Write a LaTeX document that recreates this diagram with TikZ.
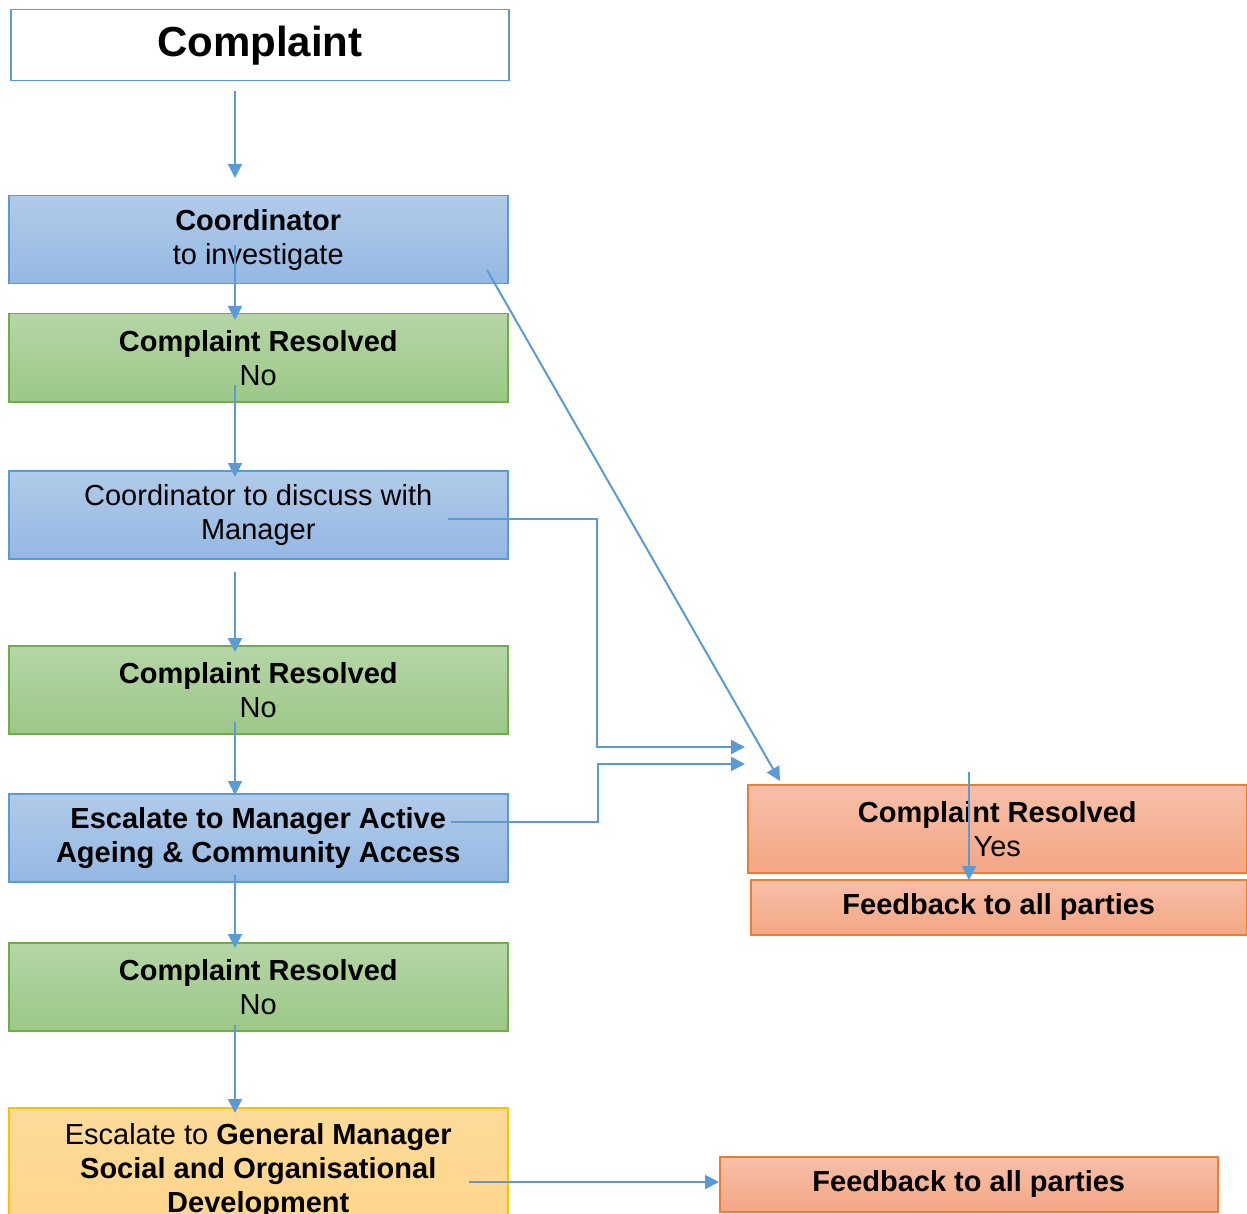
\documentclass[tikz,border=0pt]{standalone}
\usepackage{fontspec}
\setmainfont{Liberation Sans}
\usetikzlibrary{arrows.meta,calc}
\definecolor{bline}{HTML}{5B9BD5}
\definecolor{btop}{HTML}{B1CBE9}
\definecolor{bbot}{HTML}{94B8E3}
\definecolor{gline}{HTML}{70AD47}
\definecolor{gtop}{HTML}{B5D5A6}
\definecolor{gbot}{HTML}{9CC887}
\definecolor{oline}{HTML}{ED7D31}
\definecolor{otop}{HTML}{F7BFA8}
\definecolor{obot}{HTML}{F4A785}
\definecolor{yline}{HTML}{FFC000}
\definecolor{ytop}{HTML}{FEDB9A}
\definecolor{ybot}{HTML}{FED58A}
\begin{document}
\begin{tikzpicture}[x=1pt,y=-1pt,
  font=\fontsize{29}{34}\selectfont,
  box/.style={draw, line width=1.5pt, minimum width=499pt, minimum height=88pt,
    inner sep=0pt, align=center, anchor=north west},
  bluebox/.style={box, draw=bline, top color=btop, bottom color=bbot},
  greenbox/.style={box, draw=gline, top color=gtop, bottom color=gbot},
  orangebox/.style={box, draw=oline, top color=otop, bottom color=obot},
  yellowbox/.style={box, draw=yline, top color=ytop, bottom color=ybot},
  arr/.style={draw=bline, line width=2pt, -{Triangle[length=14pt,width=14pt]}}]
\useasboundingbox (0,0) rectangle (1247,1214);
\fill[white] (0,0) rectangle (1247,1214);

\node[box, draw=bline, fill=white, minimum width=498pt, minimum height=71pt,
  font=\fontsize{42}{46}\selectfont\bfseries] (title) at (10,9) {Complaint};
\node[bluebox] (coord) at (8,195) {\textbf{Coordinator}\\to investigate};
\node[greenbox] (res1) at (8,313) {\textbf{Complaint Resolved}\\No};
\node[bluebox] (disc) at (8,470) {Coordinator to discuss with\\Manager};
\node[greenbox] (res2) at (8,645) {\textbf{Complaint Resolved}\\No};
\node[bluebox, font=\fontsize{29}{34}\selectfont\bfseries] (esc) at (8,793) {Escalate to Manager Active\\Ageing \& Community Access};
\node[greenbox] (res3) at (8,942) {\textbf{Complaint Resolved}\\No};
\node[yellowbox, minimum height=126pt] (gm) at (8,1107) {Escalate to \textbf{General Manager}\\\textbf{Social and Organisational}\\\textbf{Development}};
\node[orangebox] (yes) at (747,784) {\textbf{Complaint Resolved}\\Yes};
\node[orangebox, minimum width=496pt, minimum height=55pt, font=\fontsize{29}{34}\selectfont\bfseries] (fb1) at (750,879) {Feedback to all parties};
\node[orangebox, minimum width=498pt, minimum height=55pt, font=\fontsize{29}{34}\selectfont\bfseries] (fb2) at (719,1156) {Feedback to all parties};

% connector start/end points
\coordinate (a0s) at (235,91);
\coordinate (a1s) at (235,245);
\coordinate (a2s) at (235,385);
\coordinate (a3s) at (235,572);
\coordinate (a4s) at (235,722);
\coordinate (a5s) at (235,875);
\coordinate (a6s) at (235,1025);
\coordinate (dgs) at (487,270);
\coordinate (dge) at (780,781);
\coordinate (e1s) at (448,519);
\coordinate (e1e) at (745,747);
\coordinate (e2s) at (451,822);
\coordinate (e2e) at (745,764);
\coordinate (ys) at (969,772);
\coordinate (gms) at (469,1182);

\draw[arr] (a0s) -- ($(coord.north -| a0s)+(0,-17)$);
\draw[arr] (a1s) -- ($(res1.north -| a1s)+(0,7)$);
\draw[arr] (a2s) -- ($(disc.north -| a2s)+(0,7)$);
\draw[arr] (a3s) -- ($(res2.north -| a3s)+(0,7)$);
\draw[arr] (a4s) -- ($(esc.north -| a4s)+(0,2)$);
\draw[arr] (a5s) -- ($(res3.north -| a5s)+(0,6)$);
\draw[arr] (a6s) -- ($(gm.north -| a6s)+(0,6)$);
\draw[arr] (dgs) -- (dge);
\draw[arr] (e1s) -- (597,519) -- (597,747) -- (e1e);
\draw[arr] (e2s) -- (598,822) -- (598,764) -- (e2e);
\draw[arr] (ys) -- ($(fb1.north -| ys)+(0,1)$);
\draw[arr] (gms) -- (gms -| fb2.west);
\end{tikzpicture}
\end{document}
